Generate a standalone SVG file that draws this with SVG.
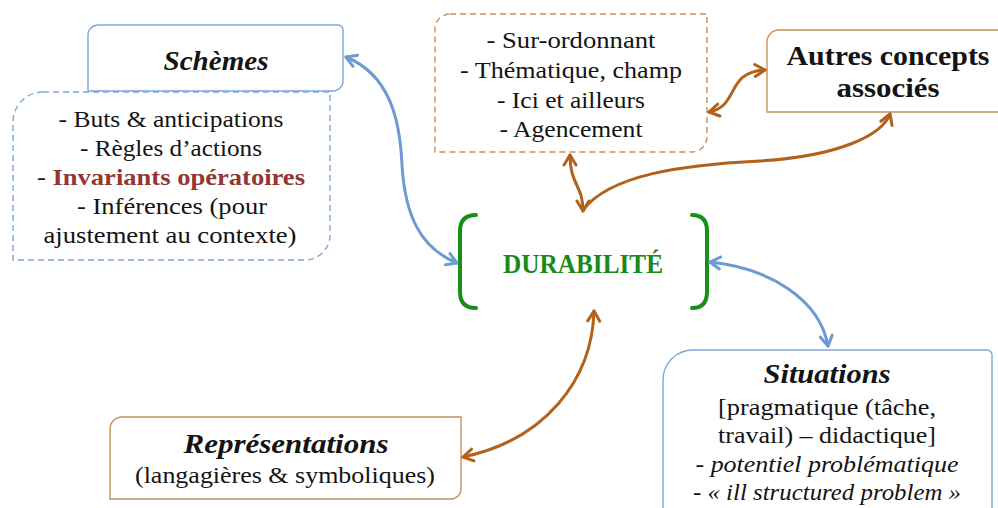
<svg xmlns="http://www.w3.org/2000/svg" width="998" height="508" viewBox="0 0 998 508">
<style>
text{font-family:"Liberation Serif","DejaVu Serif",serif;fill:#141414;text-anchor:middle}
.b{font-size:23.5px}
.h{font-size:27px;font-weight:bold}
.hi{font-size:27px;font-weight:bold;font-style:italic}
.i{font-style:italic}
.boxb{fill:#fff;stroke:#7da7d9;stroke-width:1.4}
.boxo{fill:#fff;stroke:#c8915a;stroke-width:1.4}
.dash{stroke-dasharray:6 4}
.ab{fill:none;stroke:#6b9bd2;stroke-width:3;stroke-linecap:round}
.ao{fill:none;stroke:#b2621c;stroke-width:3;stroke-linecap:round}
.br{fill:none;stroke:#169016;stroke-width:4;stroke-linecap:round}
</style>
<defs>
<marker id="mb" markerUnits="userSpaceOnUse" markerWidth="24" markerHeight="24" viewBox="-12 -12 24 24" refX="0" refY="0" orient="auto-start-reverse">
<path d="M-10,-6 L0,0 L-10,6" fill="none" stroke="#6b9bd2" stroke-width="3" stroke-linecap="round" stroke-linejoin="round"/>
</marker>
<marker id="mo" markerUnits="userSpaceOnUse" markerWidth="24" markerHeight="24" viewBox="-12 -12 24 24" refX="0" refY="0" orient="auto-start-reverse">
<path d="M-10,-6 L0,0 L-10,6" fill="none" stroke="#b2621c" stroke-width="3" stroke-linecap="round" stroke-linejoin="round"/>
</marker>
</defs>

<g id="schemes-details">
<path class="boxb dash" d="M43,92 H330 V235 A25,25 0 0 1 305,260 H13 V122 A30,30 0 0 1 43,92 Z"/>
<text class="b" x="171" y="127" textLength="225" lengthAdjust="spacingAndGlyphs">- Buts &amp; anticipations</text>
<text class="b" x="171" y="156" textLength="182" lengthAdjust="spacingAndGlyphs">- Règles d’actions</text>
<text class="b" x="171" y="185" textLength="268" lengthAdjust="spacingAndGlyphs">- <tspan font-weight="bold" fill="#943634">Invariants opératoires</tspan></text>
<text class="b" x="172" y="214" textLength="190" lengthAdjust="spacingAndGlyphs">- Inférences (pour</text>
<text class="b" x="170" y="243" textLength="253" lengthAdjust="spacingAndGlyphs">ajustement au contexte)</text>
</g>

<g id="schemes">
<path class="boxb" d="M98,25 H338 A5,5 0 0 1 343,30 V81 A10,10 0 0 1 333,91 H88 V35 A10,10 0 0 1 98,25 Z"/>
<text class="hi" x="216" y="70" textLength="105" lengthAdjust="spacingAndGlyphs">Schèmes</text>
</g>

<g id="caracteristiques">
<path class="boxo dash" d="M450,14 H707 V137 A15,15 0 0 1 692,152 H435 V29 A15,15 0 0 1 450,14 Z"/>
<text class="b" x="571" y="48" textLength="169" lengthAdjust="spacingAndGlyphs">- Sur-ordonnant</text>
<text class="b" x="571" y="78" textLength="222" lengthAdjust="spacingAndGlyphs">- Thématique, champ</text>
<text class="b" x="571" y="108" textLength="148" lengthAdjust="spacingAndGlyphs">- Ici et ailleurs</text>
<text class="b" x="571" y="137" textLength="143" lengthAdjust="spacingAndGlyphs">- Agencement</text>
</g>

<g id="autres">
<path class="boxo" d="M779,30 H1002 V112 H767 V42 A12,12 0 0 1 779,30 Z"/>
<text class="h" x="888" y="65" textLength="203" lengthAdjust="spacingAndGlyphs">Autres concepts</text>
<text class="h" x="888" y="97" textLength="103" lengthAdjust="spacingAndGlyphs">associés</text>
</g>

<g id="durabilite">
<path class="br" d="M476,215 Q460,215 460,231 V292 Q460,308 476,308"/>
<path class="br" d="M692,215 Q707,215 707,231 V292 Q707,308 692,308"/>
<text class="h" x="583" y="273" style="fill:#178a1a" textLength="160" lengthAdjust="spacingAndGlyphs">DURABILITÉ</text>
</g>

<g id="situations">
<path class="boxb" d="M693,350 H987 A5,5 0 0 1 992,355 V512 H663 V380 A30,30 0 0 1 693,350 Z"/>
<text class="hi" x="827" y="383" textLength="127" lengthAdjust="spacingAndGlyphs">Situations</text>
<text class="b" x="827" y="415" textLength="218" lengthAdjust="spacingAndGlyphs">[pragmatique (tâche,</text>
<text class="b" x="827" y="443" textLength="218" lengthAdjust="spacingAndGlyphs">travail) – didactique]</text>
<text class="b i" x="827" y="472" textLength="263" lengthAdjust="spacingAndGlyphs">- potentiel problématique</text>
<text class="b i" x="827" y="500" textLength="268" lengthAdjust="spacingAndGlyphs">- « ill structured problem »</text>
</g>

<g id="representations">
<path class="boxo" d="M122,417 H461 V489 A10,10 0 0 1 451,499 H110 V429 A12,12 0 0 1 122,417 Z"/>
<text class="hi" x="286" y="453" textLength="205" lengthAdjust="spacingAndGlyphs">Représentations</text>
<text class="b" x="285" y="483" textLength="300" lengthAdjust="spacingAndGlyphs">(langagières &amp; symboliques)</text>
</g>

<g id="connectors">
<path class="ab" d="M346,57 C390,75 400,120 402,165 C405,215 420,248 457,263" marker-start="url(#mb)" marker-end="url(#mb)"/>
<path class="ab" d="M710,262 C770,268 820,300 828,346" marker-start="url(#mb)" marker-end="url(#mb)"/>
<path class="ao" d="M570,155 C570,185 583,185 583,211" marker-start="url(#mo)" marker-end="url(#mo)"/>
<path class="ao" d="M583,210 C610,175 680,165 760,161 C840,156 882,135 890,114" marker-end="url(#mo)"/>
<path class="ao" d="M709,112 C740,106 725,72 765,70" marker-start="url(#mo)" marker-end="url(#mo)"/>
<path class="ao" d="M594,311 C592,380 545,440 463,457" marker-start="url(#mo)" marker-end="url(#mo)"/>
</g>
</svg>
